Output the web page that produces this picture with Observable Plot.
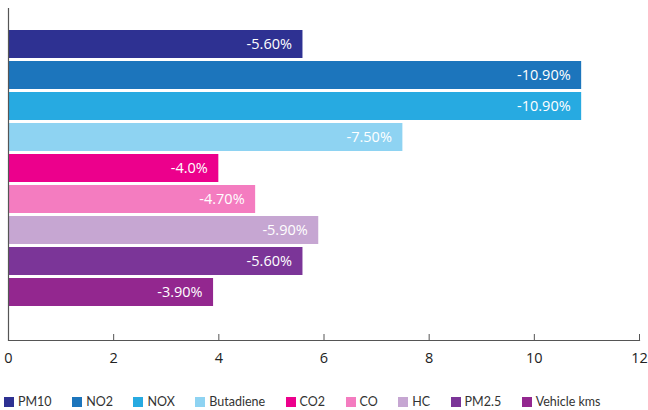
<!DOCTYPE html>
<html>
<head>
<meta charset="utf-8">
<script src="https://cdn.jsdelivr.net/npm/d3@7"></script>
<script src="https://cdn.jsdelivr.net/npm/@observablehq/plot@0.6"></script>
<style>
  html, body { margin: 0; padding: 0; background: #fff; }
  #chart svg { display: block; overflow: visible; }
  .legend { display: flex; align-items: center; margin: 11px 0 0 4px; font-family: Lato, "Open Sans", sans-serif; font-size: 12.5px; color: #333; line-height: 14px; }
  .legend .item { display: flex; align-items: center; margin-right: 20.5px; }
  .legend .sw { width: 10px; height: 10px; margin-right: 4px; }
</style>
</head>
<body>
<div id="chart"></div>
<script>
const pollutants = ["PM10", "NO2", "NOX", "Butadiene", "CO2", "CO", "HC", "PM2.5", "Vehicle kms"];
const reductions = [5.6, 10.9, 10.9, 7.5, 4.0, 4.7, 5.9, 5.6, 3.9];
const barLabels = ["-5.60%", "-10.90%", "-10.90%", "-7.50%", "-4.0%", "-4.70%", "-5.90%", "-5.60%", "-3.90%"];
const colors = ["#2e3192", "#1c75bc", "#27aae1", "#8ed3f2", "#ec008c", "#f47cc0", "#c6a6d2", "#7b3598", "#93278f"];
const xTicks = [0, 2, 4, 6, 8, 10, 12];

const data = pollutants.map((name, i) => ({ name, value: reductions[i], label: barLabels[i] }));

const W = 648, H = 384, mT = 8, mB = 44;
const plot = Plot.plot({
  width: W,
  height: H,
  marginLeft: 8,
  marginRight: 9,
  marginTop: mT,
  marginBottom: mB,
  style: { fontFamily: "'Open Sans', sans-serif", background: "#fff" },
  x: { domain: [0, 12], label: null },
  y: { domain: pollutants, range: [28, 308], paddingInner: 0.1, paddingOuter: 0.05, axis: null },
  color: { domain: pollutants, range: colors },
  marks: [
    Plot.barX(data, { x: "value", y: "name", fill: "name" }),
    Plot.text(data, { x: "value", y: "name", text: "label", textAnchor: "end", dx: -11, fill: "white", fontSize: 14.5 }),
    Plot.ruleX([0], { stroke: "#555", strokeWidth: 1.2 }),
    Plot.ruleX(xTicks.slice(1), { stroke: "#555", insetTop: (H - mT - mB) - 6 }),
    Plot.frame({ anchor: "bottom", stroke: "#555", strokeWidth: 1.2 }),
    Plot.axisX({ ticks: xTicks, tickSize: 0, tickPadding: 12, fontSize: 14.5, fill: "#222", label: null, tickFormat: d => String(d) })
  ]
});
document.getElementById("chart").appendChild(plot);

const legend = document.createElement("div");
legend.className = "legend";
pollutants.forEach((name, i) => {
  const item = document.createElement("div");
  item.className = "item";
  const sw = document.createElement("span");
  sw.className = "sw";
  sw.style.background = colors[i];
  const t = document.createElement("span");
  t.textContent = name;
  item.appendChild(sw);
  item.appendChild(t);
  legend.appendChild(item);
});
document.getElementById("chart").appendChild(legend);
</script>
</body>
</html>
